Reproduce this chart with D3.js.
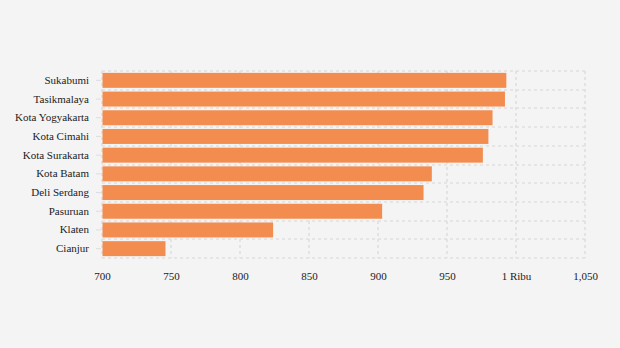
<!DOCTYPE html>
<html><head><meta charset="utf-8">
<script src="https://cdn.jsdelivr.net/npm/d3@7"></script>
<style>
html,body{margin:0;padding:0;background:#f4f4f4;}
svg{display:block;}
text{font-family:"Liberation Serif","Times New Roman",serif;fill:#222;}
</style></head>
<body><svg id="c" width="620" height="348"></svg>
<script>
const categories = ["Sukabumi","Tasikmalaya","Kota Yogyakarta","Kota Cimahi","Kota Surakarta","Kota Batam","Deli Serdang","Pasuruan","Klaten","Cianjur"];
const values = [993, 992, 983, 980, 976, 939, 933, 903, 824, 746];
const tickValues = [700, 750, 800, 850, 900, 950, 1000, 1050];
const tickLabels = ["700","750","800","850","900","950","1 Ribu","1,050"];

const svg = d3.select("#c");
const m = {left:102, right:35, top:71, bottom:90};
const W = 620, H = 348;
const x = d3.scaleLinear().domain([700,1050]).range([m.left, W - m.right]);
const y = d3.scaleBand().domain(categories).range([m.top, H - m.bottom]).paddingInner(0.2).paddingOuter(0.1);

const grid = svg.append("g").attr("stroke","#dfdfdf").attr("stroke-width",1.6).attr("stroke-dasharray","3,3");
tickValues.forEach(v=>{
  grid.append("line").attr("x1",Math.round(x(v))).attr("x2",Math.round(x(v))).attr("y1",m.top).attr("y2",H-m.bottom);
});
for(let i=0;i<=categories.length;i++){
  const yy = m.top + i*(H-m.bottom-m.top)/categories.length;
  grid.append("line").attr("x1",m.left).attr("x2",W-m.right).attr("y1",Math.round(yy)).attr("y2",Math.round(yy));
}

svg.append("g").selectAll("rect").data(categories).join("rect")
  .attr("x", x(700)+0.5)
  .attr("y", (d)=>y(d))
  .attr("width", (d,i)=>x(values[i]) - x(700) - 0.5)
  .attr("height", y.bandwidth())
  .attr("fill","#f28c4f");

const ya = svg.append("g").attr("transform",`translate(${m.left-1},0)`)
  .call(d3.axisLeft(y).tickSize(5).tickPadding(7));
ya.select(".domain").remove();
ya.selectAll(".tick line").attr("stroke","#dddddd");
ya.selectAll("text").attr("font-size","11px").attr("fill","#222");

const xa = svg.append("g").attr("transform",`translate(0,${H-m.bottom})`)
  .call(d3.axisBottom(x).tickValues(tickValues).tickFormat((d,i)=>tickLabels[i]).tickSize(0).tickPadding(14));
xa.select(".domain").remove();
xa.selectAll("text").attr("font-size","11px").attr("fill","#222");
</script></body></html>
